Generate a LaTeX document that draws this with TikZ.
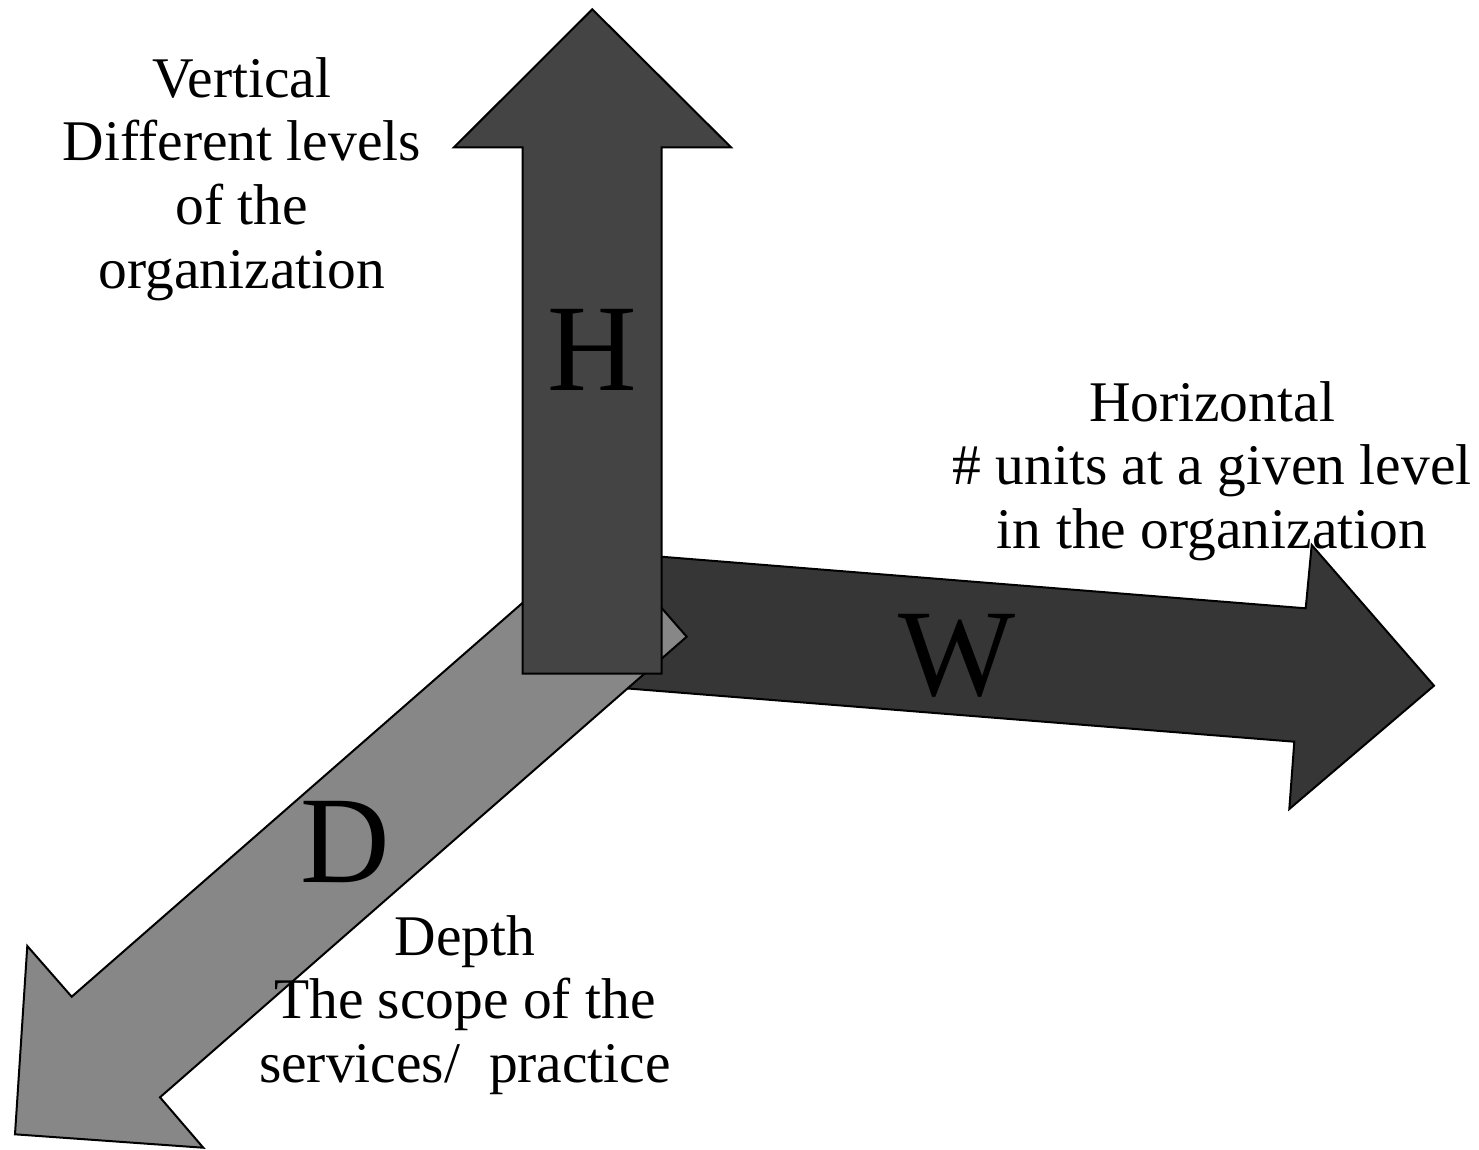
\documentclass[tikz,border=0pt]{standalone}
\usepackage{fontspec}
\setmainfont{Liberation Serif}
\definecolor{harrow}{HTML}{444444}
\definecolor{warrow}{HTML}{363636}
\definecolor{darrow}{HTML}{878787}
\begin{document}
\begin{tikzpicture}[x=1pt,y=-1pt,
  arrowshape/.style={draw=black,line width=2pt,line join=miter},
  caption/.style={align=center,font=\fontsize{57.5}{63.7}\selectfont,inner sep=0pt},
  axisletter/.style={font=\fontsize{124}{126}\selectfont,inner sep=0pt,anchor=base}]
\useasboundingbox (0,0) rectangle (1479,1149);

% label for the width axis sits behind its arrow
\node[caption] (wtext) at (1212,471) {Horizontal\\\# units at a given level\\in the organization};

% width arrow (W)
\draw[arrowshape,fill=warrow] (610,552.6) -- (1305.7,608.3) -- (1311.7,545) -- (1434,685.7)
  -- (1289.3,809) -- (1294.3,741.7) -- (599.3,686.2) -- cycle;

% depth arrow (D)
\draw[arrowshape,fill=darrow] (598.9,536.2) -- (686.7,636.7) -- (160,1097.3) -- (203.3,1147.7)
  -- (15,1134.3) -- (27.3,946) -- (71.7,996.7) -- cycle;

% height arrow (H)
\draw[arrowshape,fill=harrow] (522.7,673.7) -- (522.7,147.3) -- (454,147.3) -- (592.3,9.3)
  -- (731,147.3) -- (661.5,147.3) -- (661.5,673.7) -- cycle;

% axis letters
\node[axisletter] (hletter) at (592,390) {H};
\node[axisletter] (wletter) at (957,695) {W};
\node[axisletter] (dletter) at (345,882) {D};

% remaining labels
\node[caption] (vtext) at (242,179) {Vertical\\Different levels\\of the\\organization};
\node[caption] (dtext) at (465,1005) {Depth\\The scope of the\\services/\hspace{0.5em}practice};
\end{tikzpicture}
\end{document}
